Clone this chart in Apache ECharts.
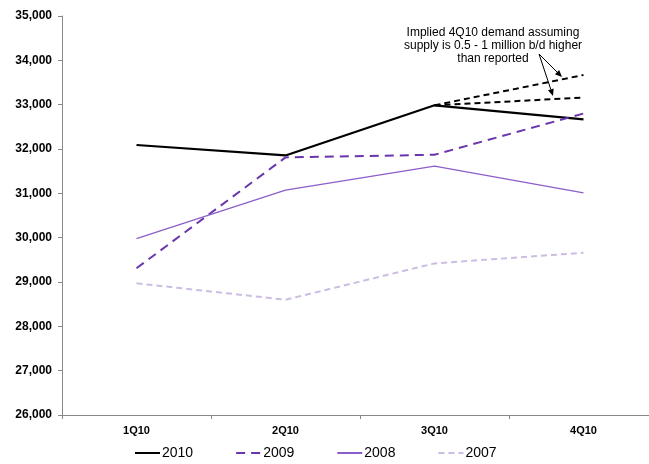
<!DOCTYPE html>
<html>
<head>
<meta charset="utf-8">
<script src="https://cdn.jsdelivr.net/npm/echarts@6/dist/echarts.min.js"></script>
<style>
  html, body { margin: 0; padding: 0; background: #fff; overflow: hidden; }
  #chart { width: 662px; height: 464px; }
</style>
</head>
<body>
<div id="chart"></div>
<script>
// quarters on the x axis
const quarters = ['1Q10', '2Q10', '3Q10', '4Q10'];

// demand, thousand b/d
const y2010 = [32090, 31855, 32985, 32670];
const y2009 = [29310, 31810, 31870, 32800];
const y2008 = [29980, 31070, 31615, 31010];
const y2007 = [28970, 28600, 29420, 29660];

// implied 4Q10 if supply is higher than reported
const impliedHigh = [null, null, 32985, 33670];
const impliedLow = [null, null, 32985, 33160];

const font = 'Liberation Sans, Arial, sans-serif';

const chart = echarts.init(document.getElementById('chart'));

function line(name, data, color, width, type) {
  return {
    name: name,
    type: 'line',
    data: data,
    symbol: 'none',
    silent: true,
    lineStyle: { color: color, width: width, type: type },
    itemStyle: { color: color },
    z: 3
  };
}

function arrow(x1, y1, x2, y2) {
  const a = Math.atan2(y2 - y1, x2 - x1);
  const len = 7, w = 3;
  const bx = x2 - len * Math.cos(a), by = y2 - len * Math.sin(a);
  return [
    { type: 'line', shape: { x1: x1, y1: y1, x2: bx, y2: by }, style: { stroke: '#000', lineWidth: 1 } },
    {
      type: 'polygon',
      shape: { points: [[x2, y2], [bx + w * Math.sin(a), by - w * Math.cos(a)], [bx - w * Math.sin(a), by + w * Math.cos(a)]] },
      style: { fill: '#000' }
    }
  ];
}

chart.setOption({
  animation: false,
  grid: { left: 62, right: 4, top: 16, bottom: 49 },
  xAxis: {
    type: 'category',
    data: quarters,
    boundaryGap: true,
    axisLine: { lineStyle: { color: '#888' } },
    axisTick: { show: true, length: 4, lineStyle: { color: '#888' } },
    axisLabel: { color: '#000', fontFamily: font, fontWeight: 'bold', fontSize: 11, margin: 10 }
  },
  yAxis: {
    type: 'value',
    min: 26000,
    max: 35000,
    interval: 1000,
    axisLine: { show: true, lineStyle: { color: '#888' } },
    axisTick: { show: true, length: 4, lineStyle: { color: '#888' } },
    splitLine: { show: false },
    axisLabel: {
      color: '#000', fontFamily: font, fontWeight: 'bold', fontSize: 12, margin: 10,
      formatter: v => v.toLocaleString('en-US')
    }
  },
  legend: {
    top: 441,
    left: 129,
    itemGap: 42,
    itemWidth: 25,
    itemHeight: 12,
    itemStyle: { opacity: 0 },
    textStyle: { color: '#000', fontFamily: font, fontSize: 14, padding: [0, 0, 0, -3] },
    data: ['2010', '2009', '2008', '2007']
  },
  series: [
    line('2010', y2010, '#000000', 2.2, 'solid'),
    line('2009', y2009, '#6a35ad', 2, [9, 6]),
    line('2008', y2008, '#8c5ec9', 1.3, 'solid'),
    line('2007', y2007, '#cbbde3', 2, [6, 4]),
    line('implied high', impliedHigh, '#000000', 2, [6, 4]),
    line('implied low', impliedLow, '#000000', 2, [6, 4])
  ],
  graphic: [
    {
      type: 'text',
      x: 493,
      y: 26,
      style: {
        text: 'Implied 4Q10 demand assuming\nsupply is 0.5 - 1 million b/d higher\nthan reported',
        font: '12px ' + font,
        fill: '#000',
        align: 'center',
        lineHeight: 13
      }
    }
  ].concat(arrow(539, 54, 562, 77), arrow(539, 54, 553, 96))
});
</script>
</body>
</html>
